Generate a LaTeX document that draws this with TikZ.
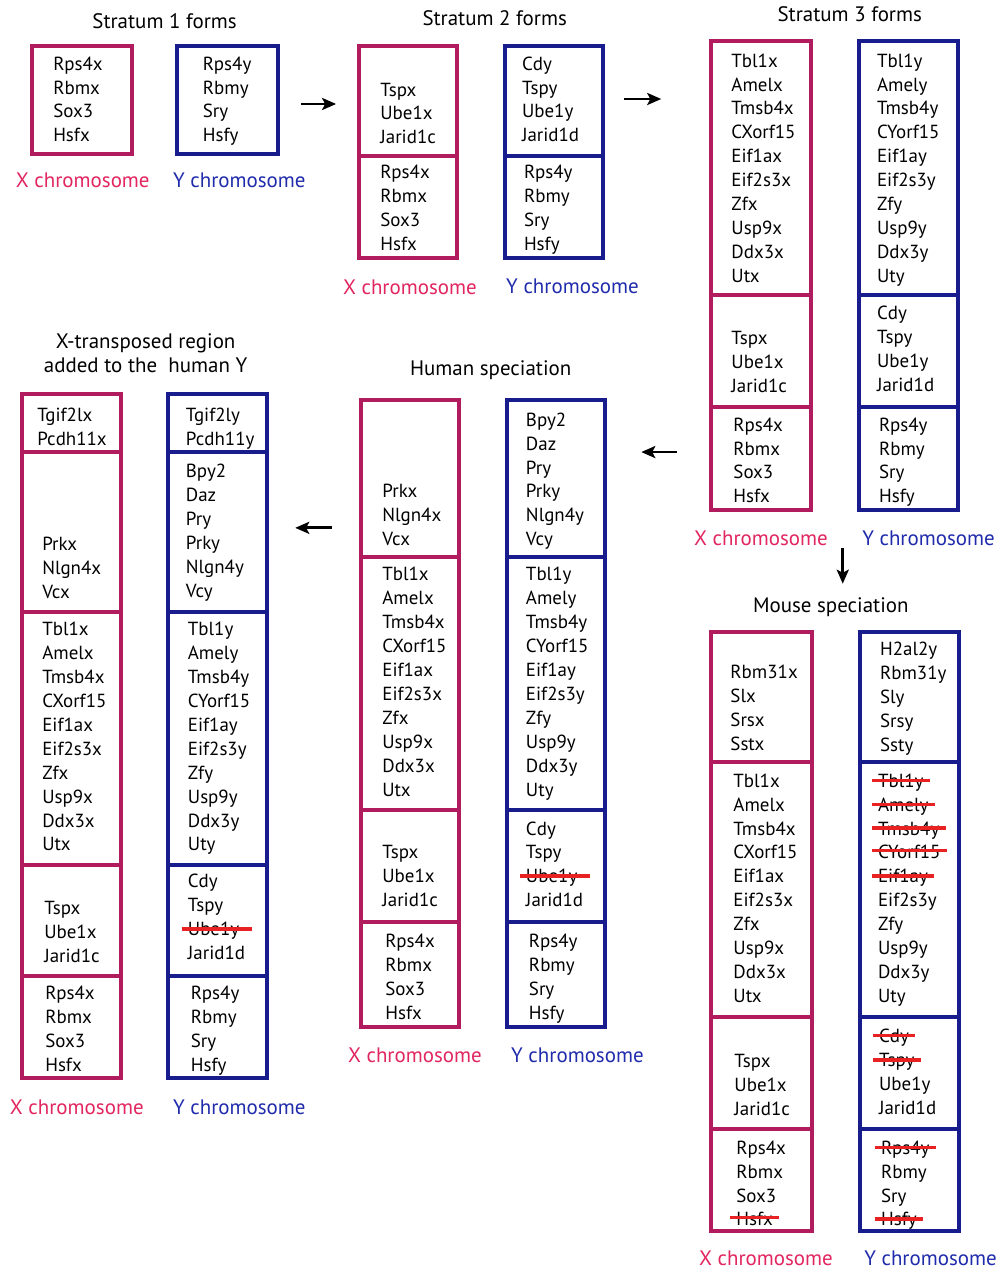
\documentclass[tikz,border=0pt]{standalone}
\usepackage{fontspec}
\setmainfont{PT Sans}
\usetikzlibrary{arrows.meta}

\definecolor{xbord}{RGB}{176,28,94}
\definecolor{xtext}{RGB}{226,38,96}
\definecolor{ybord}{RGB}{24,28,140}
\definecolor{ytext}{RGB}{32,44,172}
\definecolor{strikered}{RGB}{232,34,34}

% one column of gene names, 24px apart, first baseline at #3
\newcommand{\genelist}[4]{%
  \foreach \g [count=\i] in {#4}
    \node[gene] (#1-\i) at (#2,{#3+6+24*(\i-1)}) {\g};}

\begin{document}
\begin{tikzpicture}[x=0.5pt,y=-0.5pt]
\tikzset{
  gene/.style={anchor=base west,inner sep=0pt,font=\fontsize{9.5}{11}\selectfont},
  title/.style={font=\fontsize{10.5}{12}\selectfont},
  xlabel/.style={text=xtext,font=\fontsize{10.5}{12}\selectfont},
  ylabel/.style={text=ytext,font=\fontsize{10.5}{12}\selectfont},
  xbox/.style={draw=xbord,line width=2pt},
  ybox/.style={draw=ybord,line width=2pt},
  strike/.style={draw=strikered,line width=1.8pt},
  evo/.style={-{Stealth[length=7pt,width=6pt,inset=1.5pt]},line width=1.4pt}
}

% white page, fixes the size
\fill[white] (0,0) rectangle (1006,1272);

% ---- stratum 1
\node[title] (t1) at (165,20) {Stratum 1 forms};
\draw[xbox] (32,45) rectangle (132,153);
\draw[ybox] (177,45) rectangle (279,153);
\genelist{s1x}{53}{63}{Rps4x,Rbmx,Sox3,Hsfx}
\genelist{s1y}{203}{63}{Rps4y,Rbmy,Sry,Hsfy}
\node[xlabel] (s1xl) at (83,180) {X chromosome};
\node[ylabel] (s1yl) at (240,180) {Y chromosome};

% ---- stratum 2
\node[title] (t2) at (496,17) {Stratum 2 forms};
\draw[xbox] (360,45) rectangle (458,257);
\draw[xbox] (360,155) -- (458,155);
\draw[ybox] (506,45) rectangle (605,257);
\draw[ybox] (506,155) -- (605,155);
\genelist{s2xa}{381}{89}{Tspx,Ube1x,Jarid1c}
\genelist{s2xb}{381}{172}{Rps4x,Rbmx,Sox3,Hsfx}
\genelist{s2ya}{523}{63}{Cdy,Tspy,Ube1y,Jarid1d}
\genelist{s2yb}{525}{172}{Rps4y,Rbmy,Sry,Hsfy}
\node[xlabel] (s2xl) at (411,287) {X chromosome};
\node[ylabel] (s2yl) at (574,286) {Y chromosome};

% ---- stratum 3
\node[title] (t3) at (852,13) {Stratum 3 forms};
\draw[xbox] (713,40) rectangle (813,510);
\foreach \y in {295,407} \draw[xbox] (713,\y) -- (813,\y);
\draw[ybox] (861,40) rectangle (961,510);
\foreach \y in {295,407} \draw[ybox] (861,\y) -- (961,\y);
\genelist{s3xa}{733}{60}{Tbl1x,Amelx,Tmsb4x,CXorf15,Eif1ax,Eif2s3x,Zfx,Usp9x,Ddx3x,Utx}
\genelist{s3xb}{733}{338}{Tspx,Ube1x,Jarid1c}
\genelist{s3xc}{735}{425}{Rps4x,Rbmx,Sox3,Hsfx}
\genelist{s3ya}{879}{60}{Tbl1y,Amely,Tmsb4y,CYorf15,Eif1ay,Eif2s3y,Zfy,Usp9y,Ddx3y,Uty}
\genelist{s3yb}{879}{313}{Cdy,Tspy,Ube1y,Jarid1d}
\genelist{s3yc}{881}{425}{Rps4y,Rbmy,Sry,Hsfy}
\node[xlabel] (s3xl) at (763,538) {X chromosome};
\node[ylabel] (s3yl) at (931,538) {Y chromosome};

% ---- mouse speciation
\node[title] (tm) at (833,608) {Mouse speciation};
\draw[xbox] (713,632) rectangle (814,1233);
\foreach \y in {763,1018,1131} \draw[xbox] (713,\y) -- (814,\y);
\draw[ybox] (862,632) rectangle (962,1233);
\foreach \y in {763,1018,1131} \draw[ybox] (862,\y) -- (962,\y);
\genelist{mxa}{732}{673}{Rbm31x,Slx,Srsx,Sstx}
\genelist{mxb}{735}{782}{Tbl1x,Amelx,Tmsb4x,CXorf15,Eif1ax,Eif2s3x,Zfx,Usp9x,Ddx3x,Utx}
\genelist{mxc}{736}{1063}{Tspx,Ube1x,Jarid1c}
\genelist{mxd}{738}{1150}{Rps4x,Rbmx,Sox3,Hsfx}
\genelist{mya}{882}{650}{H2al2y,Rbm31y,Sly,Srsy,Ssty}
\genelist{myb}{880}{782}{Tbl1y,Amely,Tmsb4y,CYorf15,Eif1ay,Eif2s3y,Zfy,Usp9y,Ddx3y,Uty}
\genelist{myc}{881}{1038}{Cdy,Tspy,Ube1y,Jarid1d}
\genelist{myd}{883}{1150}{Rps4y,Rbmy,Sry,Hsfy}
\node[xlabel] (mxl) at (768,1260) {X chromosome};
\node[ylabel] (myl) at (933,1260) {Y chromosome};

% lost genes
\foreach \n in {myb-1,myb-2,myb-3,myb-4,myb-5,myc-1,myc-2,myd-1,myd-4,mxd-4}
  \draw[strike] ([xshift=-3pt,yshift=1pt]\n.west) -- ([xshift=3pt,yshift=1pt]\n.east);

% ---- human speciation
\node[title] (th) at (492,370) {Human speciation};
\draw[xbox] (362,400) rectangle (460,1028);
\foreach \y in {557,811,923} \draw[xbox] (362,\y) -- (460,\y);
\draw[ybox] (508,400) rectangle (607,1028);
\foreach \y in {557,811,923} \draw[ybox] (508,\y) -- (607,\y);
\genelist{hxa}{383}{492}{Prkx,Nlgn4x,Vcx}
\genelist{hxb}{383}{575}{Tbl1x,Amelx,Tmsb4x,CXorf15,Eif1ax,Eif2s3x,Zfx,Usp9x,Ddx3x,Utx}
\genelist{hxc}{383}{854}{Tspx,Ube1x,Jarid1c}
\genelist{hxd}{386}{943}{Rps4x,Rbmx,Sox3,Hsfx}
\genelist{hya}{527}{420}{Bpy2,Daz,Pry,Prky,Nlgn4y,Vcy}
\genelist{hyb}{527}{575}{Tbl1y,Amely,Tmsb4y,CYorf15,Eif1ay,Eif2s3y,Zfy,Usp9y,Ddx3y,Uty}
\genelist{hyc}{527}{830}{Cdy,Tspy,Ube1y,Jarid1d}
\genelist{hyd}{530}{943}{Rps4y,Rbmy,Sry,Hsfy}
\node[xlabel] (hxl) at (416,1057) {X chromosome};
\node[ylabel] (hyl) at (579,1057) {Y chromosome};
\draw[strike] ([xshift=-3pt,yshift=1pt]hyc-3.west) -- ([xshift=6pt,yshift=1pt]hyc-3.east);

% ---- X-transposed region
\node[title,align=center] (tx) at (146,353) {X-transposed region\\added to the\ \ human Y};
\draw[xbox] (22,394) rectangle (121,1080);
\foreach \y in {452,612,866,977} \draw[xbox] (22,\y) -- (121,\y);
\draw[ybox] (168,394) rectangle (268,1080);
\foreach \y in {452,612,866,977} \draw[ybox] (168,\y) -- (268,\y);
\genelist{txa}{37}{415}{Tgif2lx,Pcdh11x}
\genelist{txb}{42}{545}{Prkx,Nlgn4x,Vcx}
\genelist{txc}{42}{630}{Tbl1x,Amelx,Tmsb4x,CXorf15,Eif1ax,Eif2s3x,Zfx,Usp9x,Ddx3x,Utx}
\genelist{txd}{44}{910}{Tspx,Ube1x,Jarid1c}
\genelist{txe}{45}{995}{Rps4x,Rbmx,Sox3,Hsfx}
\genelist{tya}{186}{415}{Tgif2ly,Pcdh11y}
\genelist{tyb}{186}{472}{Bpy2,Daz,Pry,Prky,Nlgn4y,Vcy}
\genelist{tyc}{188}{630}{Tbl1y,Amely,Tmsb4y,CYorf15,Eif1ay,Eif2s3y,Zfy,Usp9y,Ddx3y,Uty}
\genelist{tyd}{188}{883}{Cdy,Tspy,Ube1y,Jarid1d}
\genelist{tye}{191}{995}{Rps4y,Rbmy,Sry,Hsfy}
\node[xlabel] (txl) at (77,1109) {X chromosome};
\node[ylabel] (tyl) at (240,1109) {Y chromosome};
\draw[strike] ([xshift=-3pt,yshift=1pt]tyd-3.west) -- ([xshift=6pt,yshift=1pt]tyd-3.east);

% arrows between the stages
\coordinate (a1s) at (302,103); \coordinate (a1e) at (337,103);
\coordinate (a2s) at (626,98);  \coordinate (a2e) at (663,98);
\coordinate (a3s) at (845,548); \coordinate (a3e) at (845,584);
\coordinate (a4s) at (679,452); \coordinate (a4e) at (643,452);
\coordinate (a5s) at (333,528); \coordinate (a5e) at (296,528);
\foreach \a in {1,...,5}
  \draw[evo] (a\a s) -- (a\a e);

\end{tikzpicture}
\end{document}
